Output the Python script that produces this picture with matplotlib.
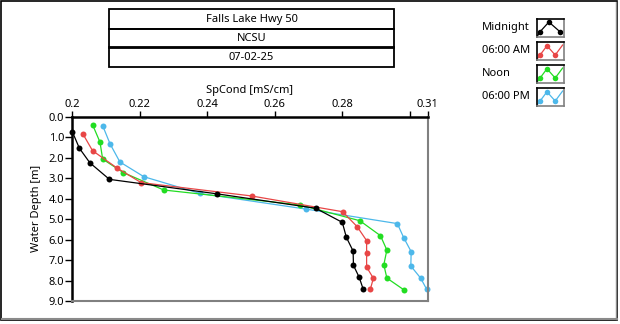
import matplotlib
matplotlib.use("Agg")
import matplotlib.pyplot as plt
from matplotlib.lines import Line2D
from matplotlib.patches import Rectangle

plt.rcParams['font.family'] = ['Noto Sans', 'DejaVu Sans']

title_lines = ["Falls Lake Hwy 50", "NCSU", "07-02-25"]
series_names = ["Midnight", "06:00 AM", "Noon", "06:00 PM"]
series_colors = ["#000000", "#E84646", "#22DD22", "#4DB8EA"]

depth_midnight = [0.73, 1.54, 2.25, 3.06, 3.77, 4.47, 5.16, 5.89, 6.56, 7.26, 7.84, 8.43]
spc_midnight = [0.2000, 0.2021, 0.2052, 0.2110, 0.2430, 0.2721, 0.2800, 0.2812, 0.2832, 0.2833, 0.2850, 0.2862]
depth_6am = [0.83, 1.66, 2.50, 3.22, 3.87, 4.64, 5.37, 6.05, 6.67, 7.34, 7.89, 8.43]
spc_6am = [0.2031, 0.2060, 0.2132, 0.2204, 0.2531, 0.2801, 0.2844, 0.2872, 0.2872, 0.2872, 0.2892, 0.2883]
depth_noon = [0.39, 1.24, 2.07, 2.73, 3.58, 4.31, 5.08, 5.81, 6.51, 7.23, 7.88, 8.45]
spc_noon = [0.2060, 0.2082, 0.2090, 0.2151, 0.2271, 0.2675, 0.2852, 0.2913, 0.2932, 0.2923, 0.2932, 0.2982]
depth_6pm = [0.44, 1.33, 2.21, 2.93, 3.75, 4.51, 5.22, 5.91, 6.59, 7.29, 7.88, 8.43]
spc_6pm = [0.2090, 0.2112, 0.2141, 0.2212, 0.2379, 0.2692, 0.2963, 0.2982, 0.3004, 0.3003, 0.3032, 0.3050]

x_ticks = [0.20, 0.22, 0.24, 0.26, 0.28, 0.30, 0.3053]
x_ticklabels = ["0.2", "0.22", "0.24", "0.26", "0.28", "", "0.31"]
y_ticks = [0, 1, 2, 3, 4, 5, 6, 7, 8, 9]
y_ticklabels = ["0.0", "1.0", "2.0", "3.0", "4.0", "5.0", "6.0", "7.0", "8.0", "9.0"]

W, H = 620, 324
fig = plt.figure(figsize=(W / 100, H / 100), dpi=100)

def fx(px):
    return px / W

def fy(py):
    return 1 - py / H

# outer frame
fig.add_artist(Rectangle((fx(1), fy(320)), fx(616), 319 / H, transform=fig.transFigure,
                         fill=False, edgecolor="black", linewidth=1.2))
fig.add_artist(Line2D([fx(2), fx(617)], [fy(318.5), fy(318.5)], transform=fig.transFigure,
                      color="#8a8a8a", linewidth=1.5))
fig.add_artist(Line2D([fx(615.5), fx(615.5)], [fy(2), fy(319)], transform=fig.transFigure,
                      color="#8a8a8a", linewidth=1.0))

# title boxes
box_edges = [9, 28.5, 47.5, 66.5]
for i, t in enumerate(title_lines):
    y0, y1 = box_edges[i], box_edges[i + 1]
    fig.add_artist(Rectangle((fx(109), fy(y1)), fx(394) - fx(109), fy(y0) - fy(y1),
                             transform=fig.transFigure, fill=False, edgecolor="black", linewidth=1.3))
    fig.text(fx(251.5), fy((y0 + y1) / 2 + 0.5), t, ha="center", va="center", fontsize=8)

# main axes
ax = fig.add_axes([fx(72.3), fy(301), fx(427.7) - fx(72.3), fy(116.7) - fy(301)])
depths = [depth_midnight, depth_6am, depth_noon, depth_6pm]
values = [spc_midnight, spc_6am, spc_noon, spc_6pm]
zs = [5, 4, 3, 2]
for d, v, c, z in zip(depths, values, series_colors, zs):
    ax.plot(v, d, color=c, linewidth=0.9, marker="o", markersize=4.3,
            markeredgewidth=0, zorder=z, clip_on=False)

ax.set_xlim(0.2, 0.3053)
ax.set_ylim(9, 0)
ax.xaxis.tick_top()
ax.xaxis.set_label_position("top")
ax.set_xticks(x_ticks)
ax.set_xticklabels(x_ticklabels)
ax.set_yticks(y_ticks)
ax.set_yticklabels(y_ticklabels)
ax.tick_params(axis="x", direction="out", length=4, width=1, pad=1, labelsize=8)
ax.tick_params(axis="y", direction="out", length=5, width=1, pad=1, labelsize=8)
ax.set_xlabel("SpCond [mS/cm]", fontsize=8, labelpad=4)
ax.set_ylabel("Water Depth [m]", fontsize=8, labelpad=5)
ax.spines["top"].set_linewidth(1.8)
ax.spines["left"].set_linewidth(1.8)
ax.spines["right"].set_color("#808080")
ax.spines["bottom"].set_color("#808080")
ax.spines["right"].set_linewidth(1.5)
ax.spines["bottom"].set_linewidth(1.5)

# legend
leg_y = [27.7, 50.7, 73.7, 96.7]
for name, c, yc in zip(series_names, series_colors, leg_y):
    fig.text(fx(482), fy(yc), name, ha="left", va="center", fontsize=8)
    iax = fig.add_axes([fx(536.5), fy(yc + 9.5), fx(27.5), 18.5 / H])
    iax.set_xlim(0, 1)
    iax.set_ylim(0, 1)
    iax.set_xticks([])
    iax.set_yticks([])
    for s in ["top", "left"]:
        iax.spines[s].set_color("black")
        iax.spines[s].set_linewidth(1.2)
    for s in ["bottom", "right"]:
        iax.spines[s].set_color("#808080")
        iax.spines[s].set_linewidth(1.2)
    if name == "Midnight":
        iax.plot([0.05, 0.12, 0.45, 0.85, 0.95], [0.1, 0.28, 0.82, 0.3, 0.25], color=c, linewidth=0.9)
        iax.plot([0.12, 0.45, 0.85], [0.28, 0.82, 0.3], "o", color=c, markersize=4, markeredgewidth=0)
    else:
        iax.plot([0.05, 0.14, 0.38, 0.68, 0.95], [0.12, 0.3, 0.78, 0.28, 0.82], color=c, linewidth=0.9)
        iax.plot([0.14, 0.38, 0.68], [0.3, 0.78, 0.28], "o", color=c, markersize=4, markeredgewidth=0)

fig.savefig("out.png", dpi=100, facecolor="white")
